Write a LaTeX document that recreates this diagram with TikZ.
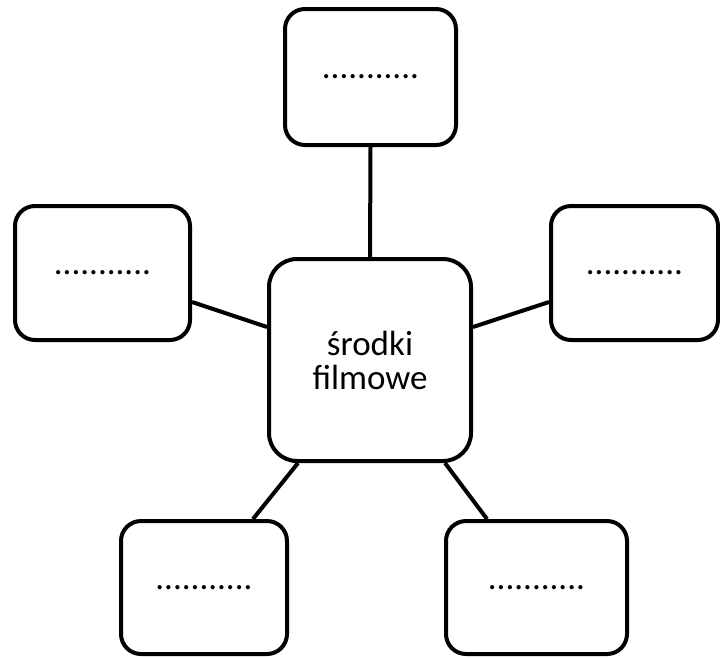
\documentclass[tikz,border=0pt]{standalone}
\usepackage{fontspec}
\setmainfont{Carlito}
\begin{document}
\begin{tikzpicture}[x=1pt,y=-1pt,
  box/.style={draw=black, line width=4pt, rounded corners=20pt, rectangle, inner sep=0pt, fill=white,
    font=\fontsize{35}{34}\selectfont, align=center},
  link/.style={draw=black, line width=4pt}]
\useasboundingbox (0,0) rectangle (720,657);
\node[box, minimum width=202pt, minimum height=202pt, rounded corners=28pt] (center) at (370,360) {środki\\filmowe};
\node[box, minimum width=171pt, minimum height=136pt] (top) at (370.5,77) {...........};
\node[box, minimum width=175pt, minimum height=134pt] (left) at (102.5,273) {...........};
\node[box, minimum width=167pt, minimum height=134pt] (right) at (634.5,273) {...........};
\node[box, minimum width=166pt, minimum height=133pt] (bl) at (204,587.5) {...........};
\node[box, minimum width=181pt, minimum height=133pt] (br) at (536.5,587.5) {...........};
\draw[link] (top.south) -- (center.north);
\draw[link] ([yshift=-29pt]left.east) -- ([yshift=33pt]center.west);
\draw[link] ([yshift=33pt]center.east) -- ([yshift=-29pt]right.west);
\draw[link] ([xshift=-72pt]center.south) -- ([xshift=49pt]bl.north);
\draw[link] ([xshift=75pt]center.south) -- ([xshift=-49.5pt]br.north);
\end{tikzpicture}
\end{document}
